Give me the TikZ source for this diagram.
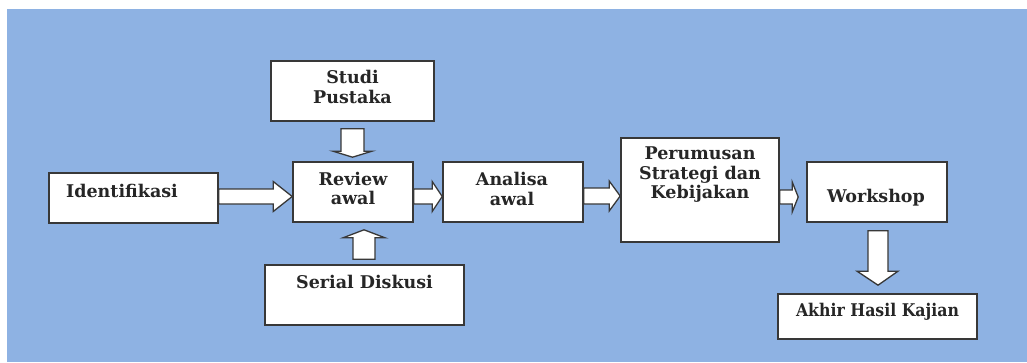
\documentclass[tikz,border=0pt]{standalone}
\usepackage{fontspec}
\usepackage{graphicx}
\setmainfont{DejaVu Serif}
\usetikzlibrary{calc}
\definecolor{bgblue}{HTML}{8EB2E3}
\definecolor{edge}{HTML}{383838}
\tikzset{
  box/.style={draw=edge, line width=1.6pt, fill=white, inner sep=0pt},
  txt/.style={font=\fontsize{17.5}{19.5}\selectfont\bfseries, text=black!85, align=center, inner sep=0pt},
  blockarrow/.style={draw=edge, line width=1.3pt, fill=white, line join=miter},
}
\begin{document}
\begin{tikzpicture}[x=1pt,y=1pt]
\useasboundingbox (0,0) rectangle (1027,362);
\fill[bgblue] (7,0) rectangle (1027,353);

\node[box, minimum width=169pt, minimum height=50pt,
  label={[txt, xshift=-11.5pt, yshift=7pt]center:Identifikasi}] (idf) at (133.5,164) {};
\node[box, minimum width=163pt, minimum height=60pt,
  label={[txt, yshift=4pt]center:{Studi\\Pustaka}}] (stu) at (352.5,271) {};
\node[box, minimum width=120pt, minimum height=60pt,
  label={[txt, yshift=3.5pt]center:{Review\\awal}}] (rev) at (353,170) {};
\node[box, minimum width=199pt, minimum height=60pt,
  label={[txt, yshift=13pt]center:Serial Diskusi}] (ser) at (364.5,67) {};
\node[box, minimum width=140pt, minimum height=60pt,
  label={[txt, xshift=-1pt, yshift=3pt]center:{Analisa\\awal}}] (ana) at (513,170) {};
\node[box, minimum width=158pt, minimum height=104pt,
  label={[txt, yshift=15pt]center:{Perumusan\\Strategi dan\\Kebijakan}}] (per) at (700,172) {};
\node[box, minimum width=140pt, minimum height=60pt,
  label={[txt, xshift=-1pt, yshift=-6pt]center:Workshop}] (wor) at (877,170) {};
\node[box, minimum width=199pt, minimum height=45pt,
  label={[txt, yshift=5pt]center:\scalebox{0.9}[1]{Akhir Hasil Kajian}}] (akh) at (877.5,45.5) {};

% horizontal block arrows
\draw[blockarrow] let \p1=(idf.east), \p2=(rev.west) in
  (\x1,173pt) -- (\x2-19pt,173pt) -- (\x2-19pt,180.5pt) -- (\x2,165.5pt)
  -- (\x2-19pt,150.5pt) -- (\x2-19pt,158pt) -- (\x1,158pt) -- cycle;
\draw[blockarrow] let \p1=(rev.east), \p2=(ana.west) in
  (\x1,173pt) -- (\x2-10pt,173pt) -- (\x2-10pt,180.5pt) -- (\x2,165.5pt)
  -- (\x2-10pt,150.5pt) -- (\x2-10pt,158pt) -- (\x1,158pt) -- cycle;
\draw[blockarrow] let \p1=(ana.east), \p2=(per.west) in
  (\x1,174pt) -- (\x2-11pt,174pt) -- (\x2-11pt,181pt) -- (\x2,166pt)
  -- (\x2-11pt,151pt) -- (\x2-11pt,158pt) -- (\x1,158pt) -- cycle;
\draw[blockarrow] let \p1=(per.east), \p2=(wor.west) in
  (\x1,172pt) -- (\x2-14pt,172pt) -- (\x2-14pt,180pt) -- (\x2-8pt,165pt)
  -- (\x2-14pt,150pt) -- (\x2-14pt,158pt) -- (\x1,158pt) -- cycle;

% vertical block arrows
\draw[blockarrow] let \p1=(stu.south), \p2=(rev.north) in
  (341pt,\y1-7pt) -- (341pt,\y2+10pt) -- (333pt,\y2+10pt) -- (352.5pt,\y2+4pt)
  -- (372pt,\y2+10pt) -- (364pt,\y2+10pt) -- (364pt,\y1-7pt) -- cycle;
\draw[blockarrow] let \p1=(ser.north), \p2=(rev.south) in
  (353pt,\y1+5pt) -- (353pt,\y2-15pt) -- (343pt,\y2-15pt) -- (364pt,\y2-7pt)
  -- (385pt,\y2-15pt) -- (375pt,\y2-15pt) -- (375pt,\y1+5pt) -- cycle;
\draw[blockarrow] let \p1=(wor.south), \p2=(akh.north) in
  (868pt,\y1-8pt) -- (868pt,\y2+22pt) -- (857pt,\y2+22pt) -- (878pt,\y2+8pt)
  -- (898pt,\y2+22pt) -- (888pt,\y2+22pt) -- (888pt,\y1-8pt) -- cycle;
\end{tikzpicture}
\end{document}
